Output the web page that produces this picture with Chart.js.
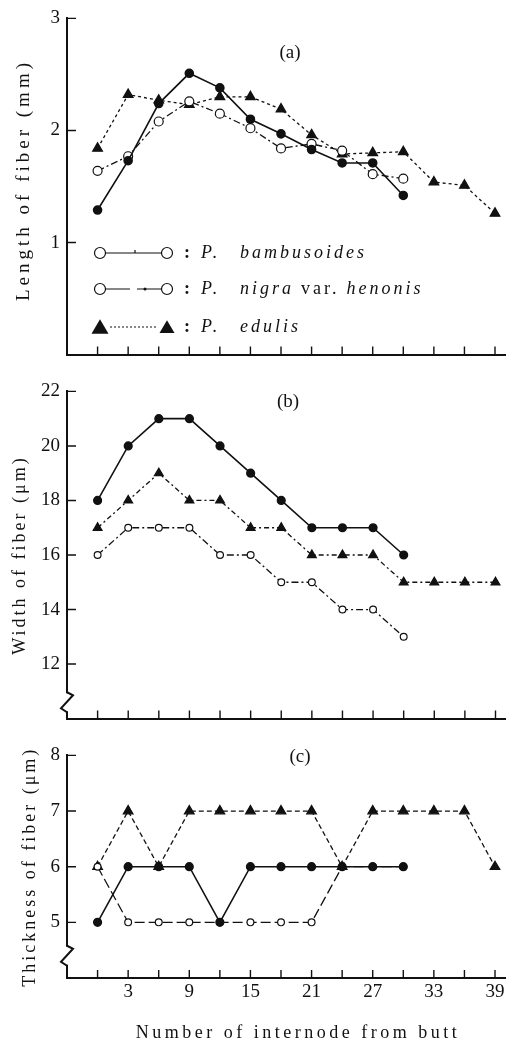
<!DOCTYPE html>
<html>
<head>
<meta charset="utf-8">
<script src="https://cdn.jsdelivr.net/npm/chart.js@4.4.1/dist/chart.umd.min.js"></script>
<style>
  html, body { margin: 0; padding: 0; background: #fff; }
  #wrap { position: relative; width: 512px; height: 1046px; overflow: hidden; }
  canvas { position: absolute; left: 0; }
</style>
</head>
<body>
<div id="wrap">
  <canvas id="chartA" width="512" height="373" style="top:0px"></canvas>
  <canvas id="chartB" width="512" height="364" style="top:373px"></canvas>
  <canvas id="chartC" width="512" height="309" style="top:737px"></canvas>
</div>
<script>
// internode number from butt
const internodes = [0, 3, 6, 9, 12, 15, 18, 21, 24, 27, 30, 33, 36, 39];
const xTickValues = [0, 3, 6, 9, 12, 15, 18, 21, 24, 27, 30, 33, 36, 39];
const xTickLabels = [3, 9, 15, 21, 27, 33, 39];

// (a) length of fiber, mm
const lengthBambusoides = [1.29, 1.73, 2.24, 2.51, 2.38, 2.10, 1.97, 1.83, 1.71, 1.71, 1.42];
const lengthNigra = [1.64, 1.77, 2.08, 2.26, 2.15, 2.02, 1.84, 1.88, 1.82, 1.61, 1.57];
const lengthEdulis = [1.84, 2.32, 2.27, 2.23, 2.30, 2.30, 2.19, 1.96, 1.79, 1.80, 1.81, 1.54, 1.51, 1.26];
const lengthTicks = [1, 2, 3];

// (b) width of fiber, um
const widthBambusoides = [18, 20, 21, 21, 20, 19, 18, 17, 17, 17, 16];
const widthNigra = [16, 17, 17, 17, 16, 16, 15, 15, 14, 14, 13];
const widthEdulis = [17, 18, 19, 18, 18, 17, 17, 16, 16, 16, 15, 15, 15, 15];
const widthTicks = [12, 14, 16, 18, 20, 22];

// (c) thickness of fiber, um
const thickBambusoides = [5, 6, 6, 6, 5, 6, 6, 6, 6, 6, 6];
const thickNigra = [6, 5, 5, 5, 5, 5, 5, 5, 6, 6, 6];
const thickEdulis = [6, 7, 6, 7, 7, 7, 7, 7, 6, 7, 7, 7, 7, 6];
const thickTicks = [5, 6, 7, 8];

const INK = '#111';
const SERIF = "'Liberation Serif', 'DejaVu Serif', serif";

function pts(vals) {
  return vals.map((v, i) => ({ x: internodes[i], y: v }));
}

function bambusoides(vals, r) {
  return { label: 'P. bambusoides', data: pts(vals), borderColor: INK, borderWidth: 1.6,
    pointStyle: 'circle', pointRadius: r, pointBackgroundColor: INK, pointBorderColor: INK };
}
function nigra(vals, r, dash) {
  return { label: 'P. nigra var. henonis', data: pts(vals), borderColor: INK, borderWidth: 1.3,
    borderDash: dash, pointStyle: 'circle', pointRadius: r, pointBackgroundColor: '#fff',
    pointBorderColor: INK, pointBorderWidth: 1.2 };
}
function edulis(vals, r, dash) {
  return { label: 'P. edulis', data: pts(vals), borderColor: INK, borderWidth: 1.3,
    borderDash: dash, pointStyle: 'triangle', pointRadius: r, pointBackgroundColor: INK,
    pointBorderColor: INK };
}

function xScale(showLabels) {
  return {
    type: 'linear', min: -3, max: 40,
    afterBuildTicks: s => { s.ticks = xTickValues.map(v => ({ value: v })); },
    afterFit: s => { s.height = showLabels ? 68 : 4; },
    grid: { drawOnChartArea: false, drawTicks: false },
    border: { color: INK, width: 2 },
    ticks: { display: showLabels, padding: 3, maxRotation: 0, autoSkip: false, color: INK,
      font: { family: SERIF, size: 19 },
      callback: v => xTickLabels.includes(v) ? String(v) : '' }
  };
}

function yScale(min, max, tickVals) {
  return {
    type: 'linear', min: min, max: max,
    afterBuildTicks: s => { s.ticks = tickVals.map(v => ({ value: v })); },
    afterFit: s => { s.width = 67; },
    grid: { drawOnChartArea: false, drawTicks: false },
    border: { color: INK, width: 2 },
    ticks: { padding: 7, color: INK, font: { family: SERIF, size: 19 }, callback: v => String(v) }
  };
}

function drawCircle(ctx, x, y, r, fill) {
  ctx.beginPath();
  ctx.arc(x, y, r, 0, Math.PI * 2);
  ctx.fillStyle = fill;
  ctx.fill();
  ctx.stroke();
}
function drawTri(ctx, x, y, w) {
  ctx.beginPath();
  ctx.moveTo(x, y - w * 0.45);
  ctx.lineTo(x + w / 2, y + w * 0.4);
  ctx.lineTo(x - w / 2, y + w * 0.4);
  ctx.closePath();
  ctx.fillStyle = INK;
  ctx.fill();
}

// inward ticks, axis break, panel letter, titles and legend
const paper = {
  id: 'paper',
  afterDraw(chart, args, o) {
    const ctx = chart.ctx, x = chart.scales.x, y = chart.scales.y;
    const area = chart.chartArea;
    ctx.save();
    ctx.strokeStyle = INK;
    ctx.fillStyle = INK;
    ctx.lineWidth = 1.4;
    ctx.beginPath();
    x.ticks.forEach(t => {
      const px = x.getPixelForValue(t.value);
      ctx.moveTo(px, area.bottom);
      ctx.lineTo(px, area.bottom - 8);
    });
    y.ticks.forEach(t => {
      const py = y.getPixelForValue(t.value);
      ctx.moveTo(area.left, py);
      ctx.lineTo(area.left + 9, py);
    });
    ctx.stroke();

    if (o.breakAt != null) {
      const by = y.getPixelForValue(o.breakAt);
      const bx = area.left;
      ctx.fillStyle = '#fff';
      ctx.fillRect(bx - 3, by - 9, 6, 18);
      ctx.lineWidth = 2;
      ctx.beginPath();
      ctx.moveTo(bx, by - 10);
      ctx.lineTo(bx + 6, by - 7);
      ctx.lineTo(bx - 6, by + 6);
      ctx.lineTo(bx, by + 10);
      ctx.stroke();
    }

    ctx.fillStyle = INK;
    ctx.textAlign = 'center';
    ctx.textBaseline = 'middle';
    ctx.font = '19px ' + SERIF;
    ctx.fillText(o.letter, o.letterX, o.letterY);

    ctx.save();
    ctx.font = (o.titleSize || 18) + 'px ' + SERIF;
    ctx.letterSpacing = (o.titleSpacing || 3) + 'px';
    ctx.translate(o.titleX, o.titleY || (area.top + area.bottom) / 2);
    ctx.rotate(-Math.PI / 2);
    ctx.fillText(o.title, 0, 0);
    ctx.restore();

    if (o.xTitle) {
      ctx.save();
      ctx.font = '18px ' + SERIF;
      ctx.letterSpacing = '3.5px';
      ctx.fillText(o.xTitle, o.xTitleX, o.xTitleY);
      ctx.restore();
    }

    if (o.legend) {
      const rows = [253, 289, 327];
      ctx.lineWidth = 1.2;
      // solid
      ctx.beginPath(); ctx.moveTo(106, rows[0]); ctx.lineTo(161, rows[0]);
      ctx.moveTo(135, rows[0] - 3); ctx.lineTo(135, rows[0]); ctx.stroke();
      drawCircle(ctx, 100, rows[0], 5.5, '#fff');
      drawCircle(ctx, 167, rows[0], 5.5, '#fff');
      // dash-dot
      ctx.beginPath(); ctx.moveTo(106, rows[1]); ctx.lineTo(130, rows[1]);
      ctx.moveTo(137, rows[1]); ctx.lineTo(161, rows[1]); ctx.stroke();
      ctx.beginPath(); ctx.arc(145, rows[1], 1.5, 0, Math.PI * 2); ctx.fillStyle = INK; ctx.fill();
      drawCircle(ctx, 100, rows[1], 5.5, '#fff');
      drawCircle(ctx, 167, rows[1], 5.5, '#fff');
      // dotted
      ctx.setLineDash([2, 2]);
      ctx.beginPath(); ctx.moveTo(110, rows[2]); ctx.lineTo(158, rows[2]); ctx.stroke();
      ctx.setLineDash([]);
      drawTri(ctx, 100, rows[2], 17);
      drawTri(ctx, 167, rows[2], 15);

      ctx.fillStyle = INK;
      ctx.textAlign = 'left';
      ctx.letterSpacing = '3px';
      const names = [
        [['P.', 'italic'], ['bambusoides', 'italic']],
        [['P.', 'italic'], ['nigra', 'italic'], ['var.', 'normal'], ['henonis', 'italic']],
        [['P.', 'italic'], ['edulis', 'italic']]
      ];
      names.forEach((parts, i) => {
        ctx.font = 'bold 18px ' + SERIF;
        ctx.fillText(':', 184, rows[i]);
        let cx = 201;
        parts.forEach(([word, style], j) => {
          ctx.font = style + ' 18px ' + SERIF;
          if (j === 1) cx = 240;
          ctx.fillText(word, cx, rows[i]);
          cx += ctx.measureText(word).width + 7;
        });
      });
    }
    ctx.restore();
  }
};

function makeChart(id, datasets, yMin, yMax, yTicks, showX, padTop, opts) {
  return new Chart(document.getElementById(id), {
    type: 'line',
    data: { datasets: datasets },
    options: {
      responsive: false,
      animation: false,
      layout: { padding: { top: padTop, right: 4, left: 0, bottom: 0 } },
      elements: { line: { tension: 0 } },
      scales: { x: xScale(showX), y: yScale(yMin, yMax, yTicks) },
      plugins: { legend: { display: false }, tooltip: { enabled: false }, paper: opts }
    },
    plugins: [paper]
  });
}

makeChart('chartA', [
  bambusoides(lengthBambusoides, 4),
  nigra(lengthNigra, 4.5, [7, 3, 2, 3]),
  edulis(lengthEdulis, 5.5, [3, 3])
], 0, 3, lengthTicks, false, 15,
  { letter: '(a)', letterX: 290, letterY: 53, title: 'Length of fiber (mm)', titleX: 24, titleY: 180,
    titleSize: 19, titleSpacing: 4, legend: true });

makeChart('chartB', [
  bambusoides(widthBambusoides, 3.8),
  nigra(widthNigra, 3.4, [7, 3, 2, 3]),
  edulis(widthEdulis, 5, [5, 3, 2, 3])
], 10, 22, widthTicks, false, 8,
  { letter: '(b)', letterX: 288, letterY: 29, title: 'Width of fiber (\u03bcm)', titleX: 20, breakAt: 10.6 });

makeChart('chartC', [
  bambusoides(thickBambusoides, 3.8),
  nigra(thickNigra, 3.4, [10, 4]),
  edulis(thickEdulis, 5.5, [5, 3])
], 4, 8, thickTicks, true, 7,
  { letter: '(c)', letterX: 300, letterY: 20, title: 'Thickness of fiber (\u03bcm)', titleX: 30, breakAt: 4.4,
    xTitle: 'Number of internode from butt', xTitleX: 298, xTitleY: 296 });
</script>
</body>
</html>
